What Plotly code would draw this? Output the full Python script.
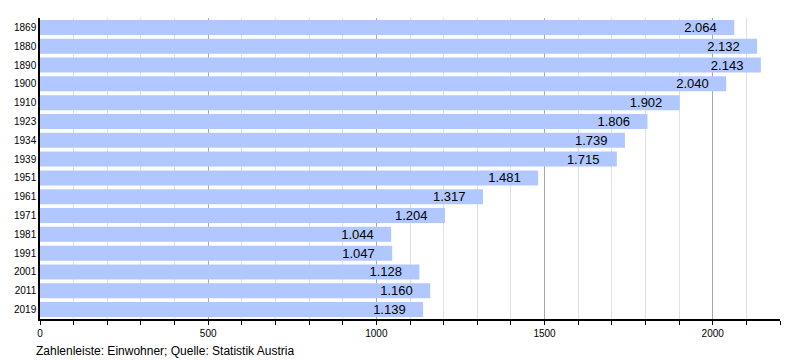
import plotly.graph_objects as go

years = ["1869", "1880", "1890", "1900", "1910", "1923", "1934", "1939",
         "1951", "1961", "1971", "1981", "1991", "2001", "2011", "2019"]
population = [2064, 2132, 2143, 2040, 1902, 1806, 1739, 1715,
              1481, 1317, 1204, 1044, 1047, 1128, 1160, 1139]
labels = [f"{v:,}".replace(",", ".") + "\u00a0" * 4 for v in population]
x_ticks = [0, 500, 1000, 1500, 2000]

fig = go.Figure()
fig.add_trace(go.Bar(
    y=years, x=population, orientation="h",
    marker=dict(color="rgb(176,200,255)", line=dict(width=0)),
    text=labels, textposition="inside", insidetextanchor="end",
    textfont=dict(color="black", size=13, family="Liberation Sans"),
    hoverinfo="skip",
))

# page body has an 8px default margin, so margins are offset by 8px
fig.update_layout(
    width=800, height=360,
    margin=dict(l=32, r=28, t=10, b=49, autoexpand=False),
    paper_bgcolor="white", plot_bgcolor="white",
    bargap=0.2, showlegend=False,
    font=dict(family="Liberation Sans", color="black"),
    uniformtext=dict(minsize=13, mode="show"),
)
fig.update_xaxes(
    range=[0, 2200], tickvals=x_ticks, ticktext=[str(v) for v in x_ticks],
    showgrid=True, gridcolor="#aaaaaa", gridwidth=1,
    minor=dict(dtick=100, showgrid=True, gridcolor="#e0e0e0", gridwidth=1,
               ticks="outside", ticklen=4, tickcolor="black"),
    ticks="outside", ticklen=4, tickcolor="black",
    showline=True, linecolor="black", linewidth=1.5,
    tickfont=dict(size=10, family="Liberation Sans"),
    zeroline=False, fixedrange=True, automargin=False,
)
fig.update_yaxes(
    categoryorder="array", categoryarray=years, autorange="reversed",
    showline=True, linecolor="black", linewidth=1.5,
    ticks="", tickfont=dict(size=10, family="Liberation Sans"),
    showgrid=False, fixedrange=True, automargin=False,
)
fig.add_annotation(
    text="Zahlenleiste: Einwohner; Quelle: Statistik Austria",
    xref="paper", yref="paper", x=0, y=0, xshift=-6, yshift=-32,
    xanchor="left", yanchor="middle", showarrow=False,
    font=dict(size=12, family="Liberation Sans", color="black"),
)

fig.write_html("out.html")
